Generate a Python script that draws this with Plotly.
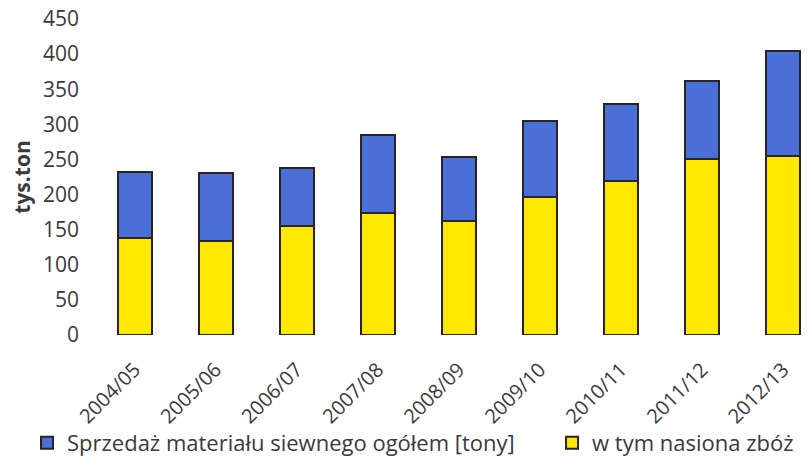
import plotly.graph_objects as go

# Seasons and sales of sowing material (thousand tonnes)
seasons = ["2004/05", "2005/06", "2006/07", "2007/08", "2008/09",
           "2009/10", "2010/11", "2011/12", "2012/13"]
total_sales = [232, 231, 238, 285, 254, 305, 329, 362, 405]
cereal_seeds = [138, 134, 155, 174, 162, 197, 220, 251, 255]
y_ticks = [0, 50, 100, 150, 200, 250, 300, 350, 400, 450]

# the blue segment sits on top of the cereal part up to the overall total
other_part = [t - c for t, c in zip(total_sales, cereal_seeds)]

FONT = "Open Sans"
TEXT = "#3a3a3a"
EDGE = "#2b2323"

fig = go.Figure()
fig.add_trace(go.Bar(
    x=seasons, y=cereal_seeds, name="w tym nasiona zbóż",
    marker=dict(color="#ffe800", line=dict(color=EDGE, width=2)),
    legend="legend2",
))
fig.add_trace(go.Bar(
    x=seasons, y=other_part, name="Sprzedaż materiału siewnego ogółem [tony]",
    marker=dict(color="#4a70d8", line=dict(color=EDGE, width=2)),
    legend="legend",
))

legend_style = dict(
    orientation="h", yanchor="top", y=-0.275,
    font=dict(family=FONT, size=22, color=TEXT),
    bgcolor="rgba(0,0,0,0)", borderwidth=0,
)

fig.update_layout(
    width=809, height=462,
    margin=dict(l=94, r=0, t=19, b=127, autoexpand=False),
    barmode="stack", bargap=0.58,
    paper_bgcolor="white", plot_bgcolor="white",
    font=dict(family=FONT, size=20, color=TEXT),
    showlegend=True,
    legend=dict(x=-0.0937, xanchor="left", **legend_style),
    legend2=dict(x=0.6406, xanchor="left", **legend_style),
    xaxis=dict(
        type="category", range=[-0.5, 8.32], automargin=False,
        tickangle=-45, showgrid=False, zeroline=False, showline=False,
        ticks="", ticklabelstandoff=18,
        tickfont=dict(family=FONT, size=20, color=TEXT),
    ),
    yaxis=dict(
        range=[0, 450], tickvals=y_ticks, automargin=False,
        showgrid=False, zeroline=False, showline=False,
        ticks="", ticklabelstandoff=14,
        tickfont=dict(family=FONT, size=21, color=TEXT),
        title=dict(text="<b>tys.ton</b>", standoff=6,
                   font=dict(family=FONT, size=21, color=TEXT)),
    ),
)

fig.write_html("out.html")
